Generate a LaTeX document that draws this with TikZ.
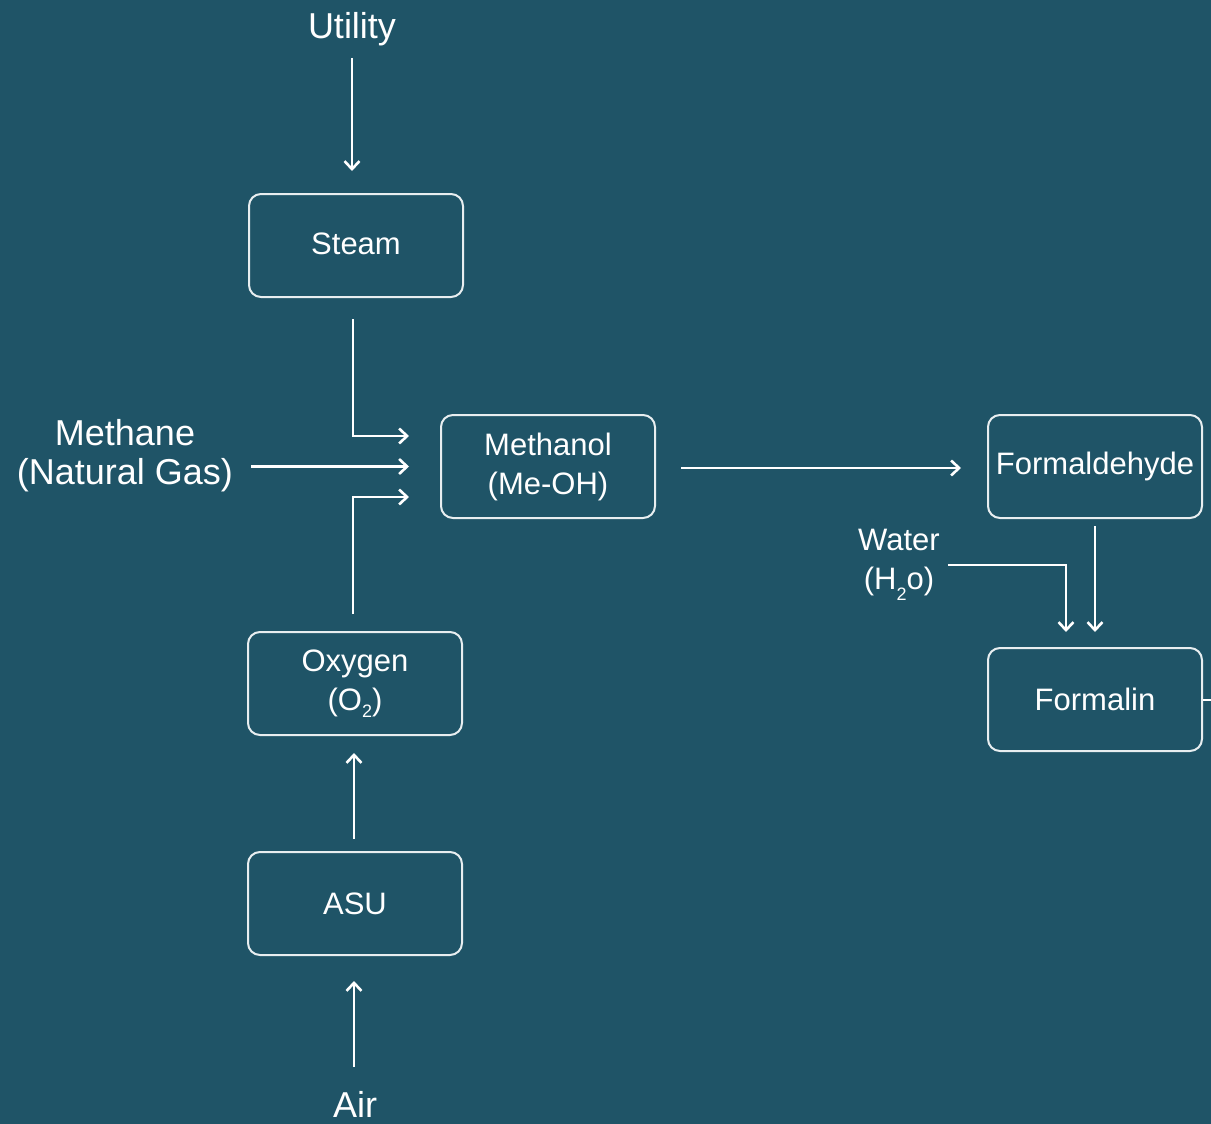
\documentclass[tikz,border=0pt]{standalone}
\usepackage{fontspec}
\setmainfont{Liberation Sans}
\usetikzlibrary{arrows.meta,calc}
\definecolor{bg}{RGB}{31,84,103}
\definecolor{edge}{RGB}{232,238,240}
\begin{document}
\begin{tikzpicture}[x=1pt,y=-1pt,
  box/.style={draw=edge, line width=2pt, rounded corners=12pt, minimum width=214pt, minimum height=103pt, text=white, align=center, font=\fontsize{31}{39}\selectfont, inner sep=0pt},
  lbl/.style={text=white, align=center, inner sep=0pt},
  big/.style={font=\fontsize{36}{39}\selectfont},
  mid/.style={font=\fontsize{31}{39}\selectfont},
  arr/.style={draw=white, line width=2.6pt, -{Straight Barb[length=8pt,width=15pt]}},
  plain/.style={draw=white, line width=2pt}]
\useasboundingbox (0,0) rectangle (1211,1124);
\fill[bg] (0,0) rectangle (1211,1124);

\node[box] (steam) at (356,245.5) {\raisebox{3pt}{Steam}};
\node[box] (methanol) at (548,466.5) {Methanol\\(Me-OH)};
\node[box] (formald) at (1095,466.5) {Formaldehyde};
\node[box] (formalin) at (1095,699.5) {Formalin};
\node[box] (oxygen) at (355,683.5) {Oxygen\\(O\raisebox{-0.45ex}{\fontsize{18}{18}\selectfont 2})};
\node[box] (asu) at (355,903.5) {ASU};

\node[lbl,big] (utility) at (352,29) {Utility};
\node[lbl,big] (methane) at (125,456) {Methane\\(Natural Gas)};
\node[lbl,mid] (water) at (899,565) {Water\\(H\raisebox{-0.7ex}{\fontsize{18}{18}\selectfont 2}o)};
\node[lbl,big] (air) at (355,1104) {Air};
\coordinate (rightedge) at (1211,699.5);

\draw[arr, shorten <=12pt] (utility.south) -- ($(steam.north)+(-4,-22)$);
\draw[arr] ($(steam.south)+(-3,21)$) |- ($(methanol.west)+(-31,-30.5)$);
\draw[arr, shorten <=18pt] (methane.east |- methanol.west) -- ($(methanol.west)+(-31,0)$);
\draw[arr] ($(oxygen.north)+(-2,-17)$) |- ($(methanol.west)+(-31,30.5)$);
\draw[arr] ($(methanol.east)+(25,1.5)$) -- ($(formald.west)+(-26,1.5)$);
\draw[arr] ($(formald.south)+(0,7)$) -- ($(formalin.north)+(0,-15)$);
\draw[arr, shorten <=8pt] (water.east) -| ($(formalin.north)+(-29,-15)$);
\draw[plain] (formalin.east) -- (rightedge);
\draw[arr] ($(asu.north)+(-1,-12)$) -- ($(oxygen.south)+(-1,17)$);
\draw[arr] ($(asu.south)+(-1,111)$) -- ($(asu.south)+(-1,25)$);
\end{tikzpicture}
\end{document}
